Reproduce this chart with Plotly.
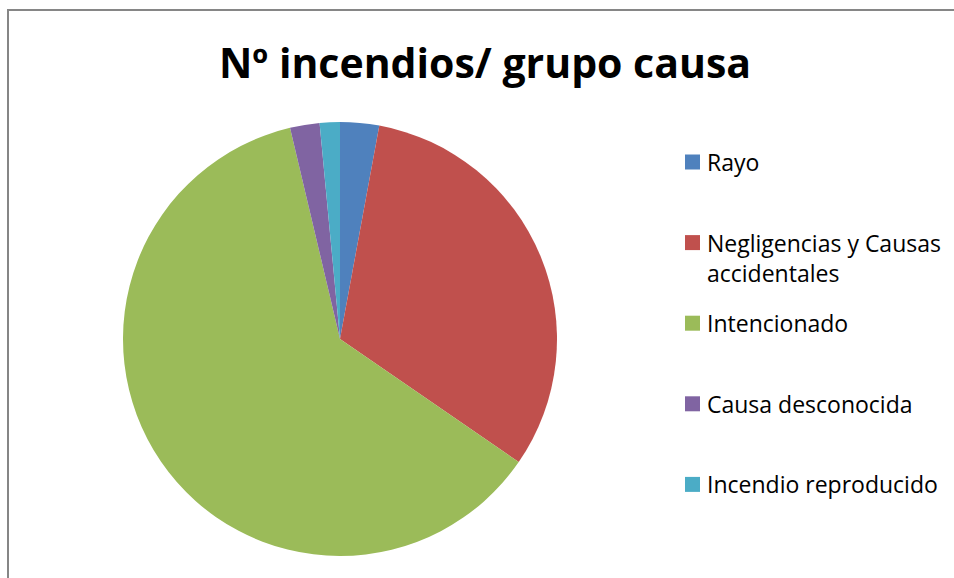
import textwrap
import plotly.graph_objects as go

# Share of fires by cause group (%)
labels = ["Rayo", "Negligencias y Causas accidentales", "Intencionado",
          "Causa desconocida", "Incendio reproducido"]
values = [2.9, 31.7, 61.7, 2.2, 1.5]
colors = ["#4F81BD", "#C0504D", "#9BBB59", "#8064A2", "#4BACC6"]

W, H = 954, 578
FONT = "Open Sans"

fig = go.Figure(go.Pie(
    labels=labels, values=values, sort=False, direction="clockwise", rotation=0,
    marker=dict(colors=colors, line=dict(width=0)), textinfo="none",
    domain=dict(x=[123 / W, 557 / W], y=[(H - 556) / H, (H - 122) / H]),
    showlegend=False,
))

shapes = [
    # chart frame (runs past the right and bottom edges)
    dict(type="rect", xref="paper", yref="paper",
         x0=8 / W, x1=1.05, y0=-0.05, y1=1 - 10 / H,
         line=dict(color="#868686", width=2), fillcolor="rgba(0,0,0,0)"),
]
annotations = [
    dict(text="<b>Nº incendios/ grupo causa</b>", xref="paper", yref="paper",
         x=485 / W, y=1 - 62 / H, xanchor="center", yanchor="middle",
         showarrow=False, font=dict(family=FONT, size=41, color="#000000")),
]

# legend: colour swatch + wrapped label, evenly spaced entries
top, step, line_h = 162, 80.6, 30
for i, (lab, col) in enumerate(zip(labels, colors)):
    yc = top + i * step
    shapes.append(dict(type="rect", xref="paper", yref="paper",
                       x0=685 / W, x1=700 / W,
                       y0=1 - (yc + 7.5) / H, y1=1 - (yc - 7.5) / H,
                       fillcolor=col, line=dict(width=0)))
    for j, part in enumerate(textwrap.wrap(lab, 21)):
        annotations.append(dict(text=part, xref="paper", yref="paper",
                                x=705 / W, y=1 - (yc + j * line_h) / H,
                                xanchor="left", yanchor="middle", showarrow=False,
                                font=dict(family=FONT, size=23, color="#000000")))

fig.update_layout(
    width=W, height=H, margin=dict(l=0, r=0, t=0, b=0),
    paper_bgcolor="white", plot_bgcolor="white",
    shapes=shapes, annotations=annotations,
)

fig.write_html("out.html")
